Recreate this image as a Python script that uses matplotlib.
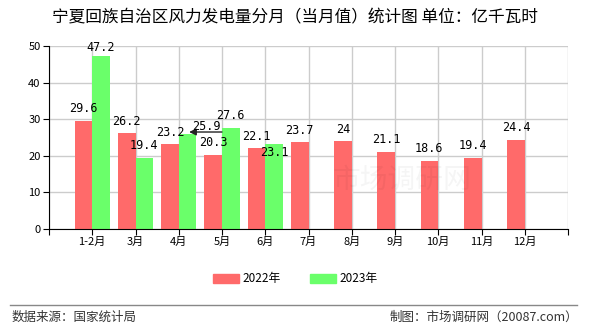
import matplotlib
matplotlib.use("Agg")
from matplotlib import pyplot as plt
from matplotlib.patches import Patch
import numpy as np

plt.rcParams['font.family'] = ['Noto Sans CJK SC', 'DejaVu Sans']

# datos
meses = ["1-2月", "3月", "4月", "5月", "6月", "7月", "8月", "9月", "10月", "11月", "12月"]
valores2022 = [29.6, 26.2, 23.2, 20.3, 22.1, 23.7, 24, 21.1, 18.6, 19.4, 24.4]
valores2023 = [47.2, 19.4, 25.9, 27.6, 23.1]
series = ["2022年", "2023年"]

rojo = "#ff6a6a"
verde = "#6aff6a"

fig = plt.figure(figsize=(5.9, 3.3), dpi=100)
ax = fig.add_axes([49/590, 101/330, 519/590, 183/330])

x = np.arange(len(meses))
ancho = 0.41
ax.bar(x[:len(valores2022)] - ancho/2, valores2022, ancho, color=rojo, zorder=2)
x2 = x[:len(valores2023)]
ax.bar(x2 + ancho/2, valores2023, ancho, color=verde, zorder=2)

def etiqueta(xp, v, dy=3.3):
    ax.text(xp, min(v + dy, 49.6), f"{v:g}", ha="center", va="center", fontsize=8.5,
            family="DejaVu Sans Mono", zorder=4)

# etiquetas de valores
for i, v in enumerate(valores2022):
    etiqueta(i - ancho/2, v)
for i, v in enumerate(valores2023):
    if i == 2:
        # etiqueta desplazada con flecha
        ax.annotate("", xy=(i + 0.24, v + 0.6), xytext=(i + 1.0, v + 0.6),
                    arrowprops=dict(arrowstyle="-|>", color="#222222", lw=1,
                                    shrinkA=0, shrinkB=0), zorder=4)
        ax.text(i + 0.63, v + 2.2, f"{v:g}", ha="center", va="center", fontsize=8.5,
                family="DejaVu Sans Mono", zorder=4)
    elif i == 4:
        etiqueta(i + ancho/2, v, dy=-2.3)
    else:
        etiqueta(i + ancho/2, v)

ax.set_xlim(-1, len(meses))
ax.set_ylim(0, 50)
ax.set_yticks([0, 10, 20, 30, 40, 50])
ax.set_xticks(np.arange(-1, len(meses) + 1))
ax.set_xticklabels([""] + meses + [""])
ax.tick_params(axis="both", labelsize=8, length=4, color="black", pad=2)
ax.grid(True, color="#cccccc", lw=1, zorder=0)
ax.set_axisbelow(True)
for lado in ["top", "right"]:
    ax.spines[lado].set_visible(False)
ax.spines["left"].set_color("black")
ax.spines["bottom"].set_color("black")

# marca de agua
ax.text(0.68, 0.27, "市场调研网", transform=ax.transAxes, fontsize=20, color="#000000",
        alpha=0.04, ha="center", va="center", zorder=3)

fig.text(0.5, 0.945, "宁夏回族自治区风力发电量分月（当月值）统计图 单位：亿千瓦时",
         ha="center", va="center", fontsize=12)

leyenda = [Patch(color=rojo, label=series[0]), Patch(color=verde, label=series[1])]
fig.legend(handles=leyenda, loc="center", bbox_to_anchor=(0.5, 0.155), ncol=2,
           frameon=False, fontsize=8.5, handlelength=2.2, handleheight=0.8,
           columnspacing=2.5, handletextpad=0.3)

fig.add_artist(plt.Line2D([10/590, 577/590], [1 - 305/330, 1 - 305/330],
                          color="#888888", lw=1))
fig.text(12/590, 1 - 317/330, "数据来源：国家统计局", ha="left", va="center",
         fontsize=9, color="#333333")
fig.text(578/590, 1 - 317/330, "制图：市场调研网（20087.com）", ha="right", va="center",
         fontsize=9, color="#333333")

fig.savefig("out.png", dpi=100)
